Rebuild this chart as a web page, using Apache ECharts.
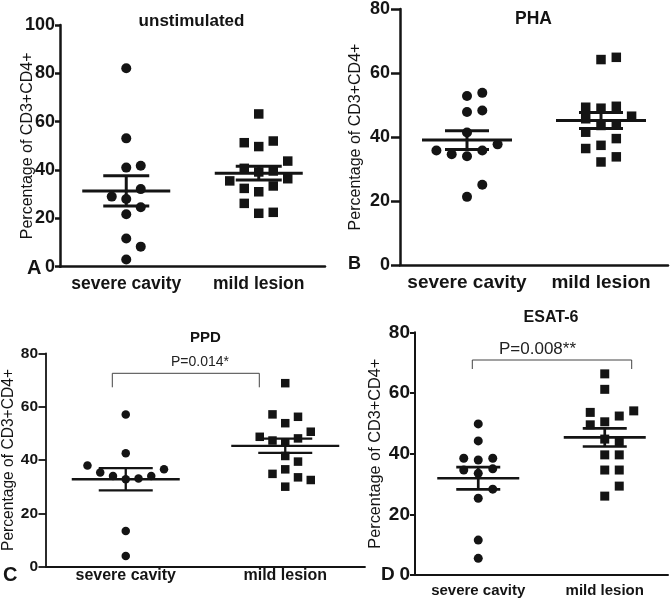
<!DOCTYPE html>
<html>
<head>
<meta charset="utf-8">
<script src="https://cdn.jsdelivr.net/npm/echarts@6/dist/echarts.min.js"></script>
<style>
html,body{margin:0;padding:0;background:#fff;}
#chart{width:671px;height:601px;}
</style>
</head>
<body>
<div id="chart"></div>
<script>
// ---------- DATA ----------
const categories = ['severe cavity', 'mild lesion'];
const yTicksUnstim = [0, 20, 40, 60, 80, 100];
const yTicksOther = [0, 20, 40, 60, 80];

const unstimSevere = [82.1, 53.1, 41.0, 41.8, 28.0, 32.1, 29.0, 24.6, 21.7, 11.7, 8.3, 3.0];
const unstimMild   = [63.2, 49.7, 52.0, 51.3, 39.2, 39.6, 40.7, 43.7, 36.4, 35.5, 31.0, 33.4, 32.4, 22.1, 22.5, 26.2];
const phaSevere    = [52.8, 53.8, 47.8, 48.3, 41.4, 34.0, 35.8, 34.6, 37.7, 35.8, 21.3, 25.1];
const phaMild      = [64.2, 64.9, 49.0, 49.6, 49.3, 43.6, 43.8, 45.7, 46.5, 37.4, 32.2, 33.8, 39.5, 36.4, 41.5];
const ppdSevere    = [57.1, 42.5, 32.8, 33.1, 34.0, 34.0, 35.3, 36.5, 37.9, 13.4, 4.0];
const ppdMild      = [68.8, 53.8, 56.2, 57.1, 46.5, 48.1, 47.3, 50.6, 48.7, 41.5, 36.5, 30.0, 39.4, 34.8, 33.5, 32.5];
const esatSevere   = [49.8, 44.2, 37.9, 38.5, 38.5, 33.5, 35.0, 34.6, 25.3, 28.3, 11.5, 5.5];
const esatMild     = [66.3, 61.2, 50.5, 52.4, 53.6, 54.1, 49.5, 44.8, 43.9, 39.6, 39.6, 34.6, 34.6, 26.0, 29.3];

const panelTitles = ['unstimulated', 'PHA', 'PPD', 'ESAT-6'];
const panelLetters = ['A', 'B', 'C', 'D'];
const pValueTexts = ['P=0.014*', 'P=0.008**'];
const yAxisName = 'Percentage of CD3+CD4+';

// ---------- LAYOUT ----------
const FONT = "'Liberation Sans', Arial, Helvetica, sans-serif";
const panels = [
  {grid:{left:60, top:25, width:265, height:241.7}, ticks:yTicksUnstim, severe:unstimSevere, mild:unstimMild,
   titleX:191.5, titleY:13, titleSize:17, letterX:27, letterY:258, letterSize:20,
   tickFont:18, tickMargin:5, yTickLen:5, xTickLen:8, xLabelFont:17.5, xLabelMargin:8,
   nameFont:16, nameGap:24, axisW:2.5, circle:10, square:9.5, spacing:14.5, collide:[13,13],
   meanHW:44, capHW:23, barW:3},
  {grid:{left:400, top:8.3, width:268, height:256.7}, ticks:yTicksOther, severe:phaSevere, mild:phaMild,
   titleX:533.5, titleY:10.5, titleSize:17.5, letterX:348, letterY:255.5, letterSize:18,
   tickFont:18, tickMargin:10, yTickLen:9, xTickLen:8, xLabelFont:19, xLabelMargin:8,
   nameFont:16, nameGap:36, axisW:2.5, circle:10, square:9.5, spacing:15.3, collide:[13,11],
   meanHW:45, capHW:22, barW:3},
  {grid:{left:45, top:353.3, width:320, height:213.4}, ticks:yTicksOther, severe:ppdSevere, mild:ppdMild,
   titleX:205.5, titleY:330, titleSize:15, letterX:3, letterY:565, letterSize:20,
   tickFont:15.5, tickMargin:8, yTickLen:7.5, xTickLen:5, xLabelFont:16, xLabelMargin:1,
   nameFont:15.6, nameGap:29, axisW:1.8, circle:8.5, square:8.5, spacing:12.8, collide:[13,13],
   meanHW:54, capHW:27, barW:2.3},
  {grid:{left:415, top:332.3, width:253, height:242.7}, ticks:yTicksOther, severe:esatSevere, mild:esatMild,
   titleX:551, titleY:310, titleSize:16, letterX:381, letterY:565, letterSize:19,
   tickFont:19, tickMargin:5, yTickLen:5, xTickLen:7, xLabelFont:15, xLabelMargin:8,
   nameFont:16.3, nameGap:31, axisW:2, circle:9, square:9, spacing:14.5, collide:[9.7,12],
   meanHW:41, capHW:22, barW:2.7}
];

// ---------- helpers ----------
function mean(a){ return a.reduce((s,v)=>s+v,0)/a.length; }
function sem(a){ const m=mean(a); const v=a.reduce((s,x)=>s+(x-m)*(x-m),0)/(a.length-1); return Math.sqrt(v/a.length); }
// deterministic beeswarm: columns 0,+1,-1,+2,-2...
function swarm(vals, pxPerUnit, dPx){
  const placed=[], slots=[];
  for(const v of vals){
    for(let k=0;;k++){
      const s = k===0 ? 0 : (k%2 ? (k+1)/2 : -k/2);
      if(!placed.some(p=>p.slot===s && Math.abs(p.v-v)*pxPerUnit < dPx)){ placed.push({v,slot:s}); slots.push(s); break; }
    }
  }
  return slots;
}

const chart = echarts.init(document.getElementById('chart'), null, {renderer:'canvas'});
const grids=[], xAxes=[], yAxes=[], series=[], graphics=[];
const black='#141414';

panels.forEach((p,i)=>{
  const yMax = p.ticks[p.ticks.length-1];
  const interval = p.ticks[1]-p.ticks[0];
  grids.push(Object.assign({containLabel:false}, p.grid));
  xAxes.push({type:'category', gridIndex:i, data:categories, boundaryGap:true,
    axisLine:{onZero:false, lineStyle:{color:black, width:p.axisW}},
    axisTick:{alignWithLabel:true, length:p.xTickLen, lineStyle:{color:black, width:p.axisW}},
    axisLabel:{interval:0, hideOverlap:false, color:black, fontFamily:FONT, fontWeight:'bold', fontSize:p.xLabelFont, margin:p.xLabelMargin},
    splitLine:{show:false}});
  xAxes.push({type:'value', gridIndex:i, min:-0.5, max:1.5, show:false});
  yAxes.push({type:'value', gridIndex:i, min:0, max:yMax, interval:interval,
    name:yAxisName, nameLocation:'middle', nameGap:p.nameGap, nameMoveOverlap:false,
    nameTextStyle:{color:black, fontFamily:FONT, fontSize:p.nameFont},
    axisLine:{show:true, onZero:false, lineStyle:{color:black, width:p.axisW}},
    axisTick:{show:true, length:p.yTickLen, lineStyle:{color:black, width:p.axisW}},
    axisLabel:{color:black, fontFamily:FONT, fontWeight:'bold', fontSize:p.tickFont, margin:p.tickMargin},
    splitLine:{show:false}});

  const pxPerUnit = p.grid.height / yMax;
  const unitPerPx = 2 / p.grid.width;
  [p.severe, p.mild].forEach((vals, ci)=>{
    const slots = swarm(vals, pxPerUnit, p.collide[ci]);
    series.push({type:'scatter', xAxisIndex:2*i+1, yAxisIndex:i,
      symbol: ci===0 ? 'circle' : 'rect', symbolSize: ci===0 ? p.circle : p.square,
      itemStyle:{color:black, opacity:1}, silent:true, z:2,
      data: vals.map((v,k)=>[ci + slots[k]*p.spacing*unitPerPx, v])});
  });
  const stats = [p.severe, p.mild].map((a,ci)=>[ci, mean(a), sem(a)]);
  series.push({type:'custom', xAxisIndex:2*i+1, yAxisIndex:i, silent:true, z:5,
    data: stats,
    renderItem:(params, api)=>{
      const x=api.value(0), m=api.value(1), s=api.value(2);
      const c=api.coord([x,m]), hi=api.coord([x,m+s]), lo=api.coord([x,m-s]);
      const st={stroke:black, lineWidth:p.barW, lineCap:'butt'};
      return {type:'group', children:[
        {type:'line', shape:{x1:c[0]-p.meanHW, y1:c[1], x2:c[0]+p.meanHW, y2:c[1]}, style:st},
        {type:'line', shape:{x1:c[0], y1:hi[1], x2:c[0], y2:lo[1]}, style:st},
        {type:'line', shape:{x1:c[0]-p.capHW, y1:hi[1], x2:c[0]+p.capHW, y2:hi[1]}, style:st},
        {type:'line', shape:{x1:c[0]-p.capHW, y1:lo[1], x2:c[0]+p.capHW, y2:lo[1]}, style:st}
      ]};
    }});

  graphics.push({type:'text', x:p.titleX, y:p.titleY, style:{text:panelTitles[i], font:'bold '+p.titleSize+'px '+FONT, fill:black, align:'center', verticalAlign:'top'}});
  graphics.push({type:'text', x:p.letterX, y:p.letterY, style:{text:panelLetters[i], font:'bold '+p.letterSize+'px '+FONT, fill:black, align:'left', verticalAlign:'top'}});
});

// significance brackets (annotation layout)
graphics.push({type:'polyline', shape:{points:[[112.3,387.3],[112.3,373.3],[259.3,373.3],[259.3,387.3]]}, style:{stroke:'#444', lineWidth:1, fill:null}});
graphics.push({type:'text', x:200, y:355, style:{text:pValueTexts[0], font:'14px '+FONT, fill:'#222', align:'center', verticalAlign:'top'}});
graphics.push({type:'polyline', shape:{points:[[472.3,369],[472.3,360],[631.7,360],[631.7,369]]}, style:{stroke:'#444', lineWidth:1, fill:null}});
graphics.push({type:'text', x:537.5, y:341, style:{text:pValueTexts[1], font:'17px '+FONT, fill:'#222', align:'center', verticalAlign:'top'}});

chart.setOption({
  animation:false,
  backgroundColor:'#fff',
  grid:grids, xAxis:xAxes, yAxis:yAxes, series:series, graphic:graphics
});
</script>
</body>
</html>
